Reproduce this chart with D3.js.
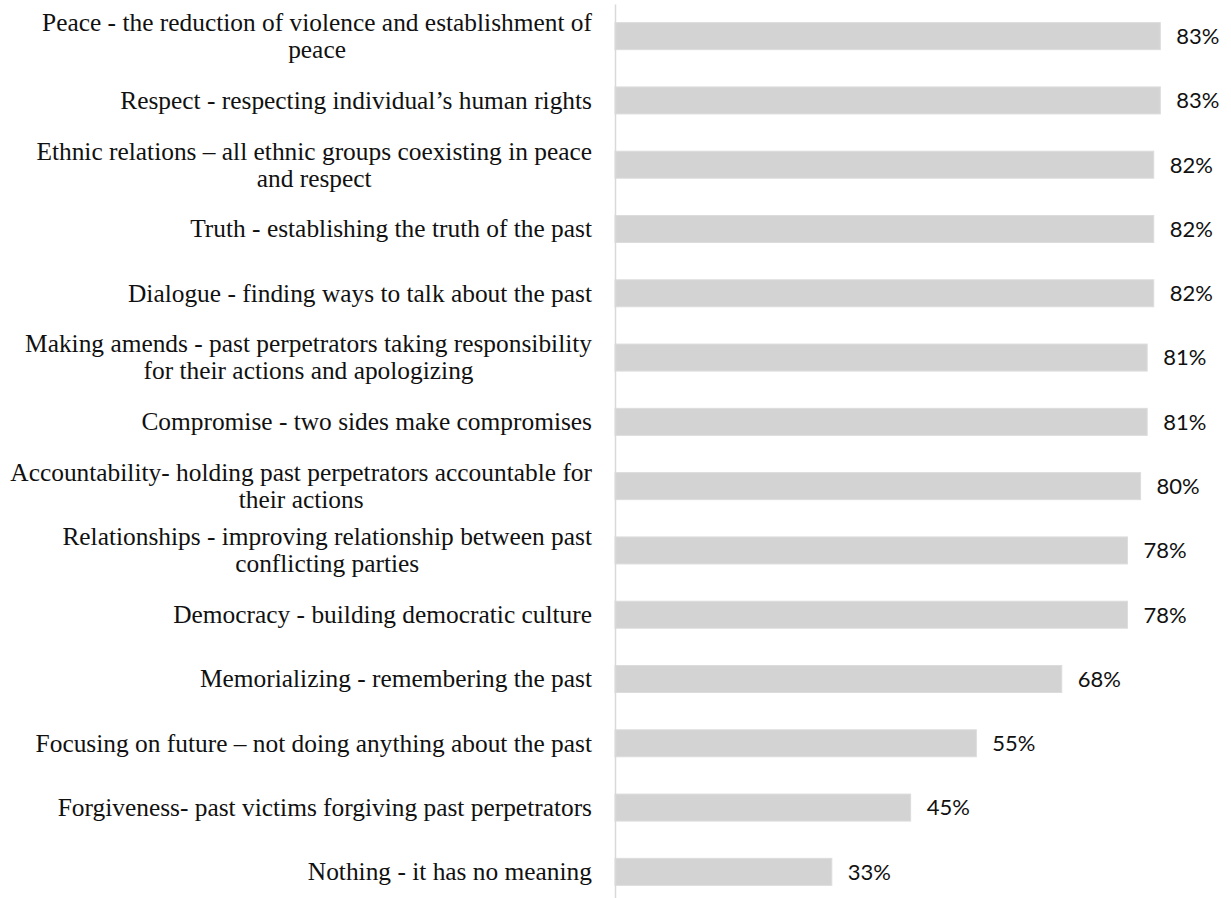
<!DOCTYPE html>
<html>
<head>
<meta charset="utf-8">
<script src="https://cdn.jsdelivr.net/npm/d3@7"></script>
<style>
  html, body { margin: 0; padding: 0; background: #fff; }
  svg { display: block; }
  text { font-family: "Liberation Serif", "Times New Roman", serif; fill: #111; }
</style>
</head>
<body>
<svg id="chart" width="1231" height="898"></svg>
<script>
// Categories (line breaks mark where each label wraps)
const categories = [
  "Peace - the reduction of violence and establishment of\npeace",
  "Respect - respecting individual’s human rights",
  "Ethnic relations – all ethnic groups coexisting in peace\nand respect",
  "Truth - establishing the truth of the past",
  "Dialogue - finding ways to talk about the past",
  "Making amends - past perpetrators taking responsibility\nfor their actions and apologizing",
  "Compromise - two sides make compromises",
  "Accountability- holding past perpetrators accountable for\ntheir actions",
  "Relationships - improving relationship between past\nconflicting parties",
  "Democracy - building democratic culture",
  "Memorializing - remembering the past",
  "Focusing on future – not doing anything about the past",
  "Forgiveness- past victims forgiving past perpetrators",
  "Nothing - it has no meaning"
];

// Share of respondents (%)
const values = [83, 83, 82, 82, 82, 81, 81, 80, 78, 78, 68, 55, 45, 33];

const svg = d3.select("#chart");
const axisX = 615;

const x = d3.scaleLinear().domain([0, 100]).range([axisX, axisX + 657]);
const y = d3.scaleBand()
  .domain(categories)
  .range([4, 904])
  .paddingInner(0.58)
  .paddingOuter(0.29);

const data = categories.map((c, i) => ({ cat: c, value: values[i] }));

// Bars
svg.append("g")
  .selectAll("rect")
  .data(data)
  .join("rect")
  .attr("x", x(0))
  .attr("y", d => y(d.cat))
  .attr("width", d => x(d.value) - x(0))
  .attr("height", y.bandwidth())
  .attr("fill", "#d3d3d3")
  .attr("stroke", "#dcdcdc")
  .attr("stroke-width", 1);

// Value labels
svg.append("g")
  .selectAll("text")
  .data(data)
  .join("text")
  .attr("x", d => x(d.value) + 16)
  .attr("y", d => y(d.cat) + y.bandwidth() / 2)
  .attr("dy", "0.36em")
  .attr("fill", "#1a1a1a")
  .style("font-family", "Lato, 'Open Sans', sans-serif")
  .style("font-size", "22px")
  .text(d => d.value + "%");

// Category axis: line plus wrapped, block-right-aligned labels
const fontSize = 25.4;
const lineH = 27;
const gap = 23;
const axisG = svg.append("g")
  .attr("transform", `translate(${axisX},0)`)
  .call(d3.axisLeft(y).tickSize(0).tickSizeOuter(0).tickPadding(gap));

axisG.select(".domain").attr("stroke", "#d9d9d9").attr("stroke-width", 1.5);

axisG.selectAll(".tick text").each(function (d) {
  const t = d3.select(this);
  const lines = d.split("\n");
  t.text(null)
    .attr("x", null)
    .attr("dy", null)
    .attr("fill", "#111")
    .style("font-size", fontSize + "px")
    .style("font-family", '"Liberation Serif", "Times New Roman", serif')
    .attr("text-anchor", "middle");
  const off = -(lines.length - 1) * lineH / 2;
  lines.forEach((ln, k) => {
    t.append("tspan")
      .attr("x", 0)
      .attr("y", off + k * lineH)
      .attr("dy", "0.33em")
      .text(ln);
  });
  let maxW = 0;
  t.selectAll("tspan").each(function () {
    maxW = Math.max(maxW, this.getComputedTextLength());
  });
  t.attr("transform", `translate(${-(gap + maxW / 2)},0)`);
});
</script>
</body>
</html>
